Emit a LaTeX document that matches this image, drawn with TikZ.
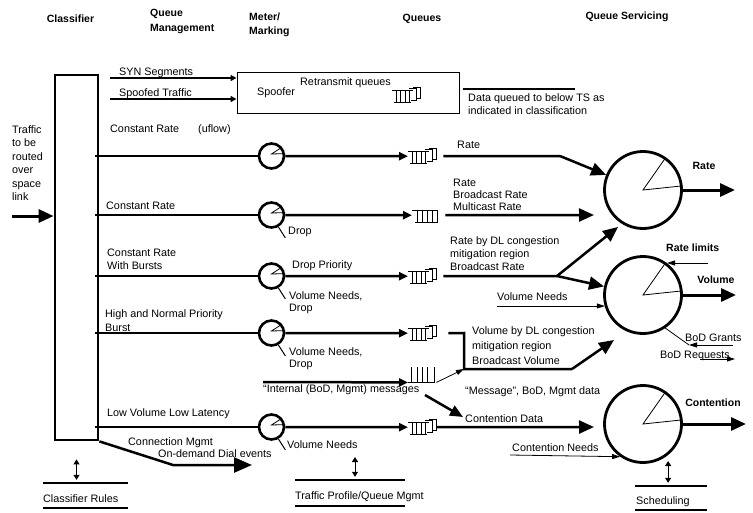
\documentclass[tikz,border=0pt]{standalone}
\usepackage{fontspec}
\setmainfont{Liberation Sans}
\usetikzlibrary{arrows.meta,calc}
\newcommand\qplate[1]{\begin{scope}[shift={(#1.north west)}, line width=0.8pt]
 \draw (0,3) -- (21,3);
 \draw (2,15) -- (19,15);
 \foreach \xx in {4,8.5,13,17.5} \draw (\xx,3) -- (\xx,16);
 \draw (17,1) -- (24,1) -- (24,13) -- (19,13);
 \draw (21,1) -- (21,0) -- (28,0) -- (28,11) -- (24,11);
\end{scope}}
\newcommand\qsimple[1]{\begin{scope}[shift={(#1.north west)}, line width=0.8pt]
 \draw (0,3) -- (26,3);
 \draw (3,15) -- (26,15);
 \foreach \xx in {5,10,15,20,25} \draw (\xx,3) -- (\xx,16);
\end{scope}}
\newcommand\qopen[1]{\begin{scope}[shift={(#1.north west)}, line width=0.8pt]
 \draw (0,15) -- (27,15);
 \foreach \xx in {3,9,14,19,26} \draw (\xx,0) -- (\xx,15);
\end{scope}}
\begin{document}
\begin{tikzpicture}[x=1pt,y=-1pt,
 font=\fontsize{10.8}{12}\selectfont,
 thk/.style={line width=2.5pt},
 thn/.style={line width=0.8pt},
 hd/.style={font=\bfseries\fontsize{10.5}{12}\selectfont, inner sep=0},
 lb/.style={anchor=west, inner sep=0, text height=7.5pt, text depth=2pt},
 ml/.style={anchor=north west, inner sep=0, align=left},
 meter/.style={circle, draw, line width=2.6pt, minimum size=25pt, inner sep=0},
 server/.style={circle, draw, line width=2.8pt, minimum size=77pt, inner sep=0},
 qbox/.style={inner sep=0, minimum width=28pt, minimum height=16pt, anchor=north west},
 big/.style={-{Triangle[length=15pt,width=13pt]}},
 mid/.style={-{Triangle[length=9pt,width=8pt]}},
 sml/.style={-{Triangle[length=6pt,width=6pt]}},
 thinarr/.style={line width=0.8pt,-{Triangle[length=8pt,width=5pt]}},
 dbl/.style={line width=1pt,{Triangle[length=5pt,width=6pt]}-{Triangle[length=5pt,width=6pt]}},
 store/.style={anchor=west, inner sep=0, minimum height=25pt, text height=13.5pt, text depth=0pt},
 tick/.style={line width=1pt}]
\useasboundingbox (0,0) rectangle (753,512);

% headers
\node[hd] (hcls) at (70.5,19) {Classifier};
\node[ml, font=\bfseries\fontsize{10.5}{15}\selectfont] (hqm) at (150,9) {Queue\\Management};
\node[ml, font=\bfseries\fontsize{10.5}{13.5}\selectfont] (hmm) at (249,13) {Meter/\\Marking};
\node[hd] (hq) at (422,19) {Queues};
\node[hd] (hqs) at (627,17) {Queue Servicing};

% classifier
\node[draw, line width=2.8pt, minimum width=43pt, minimum height=365pt, inner sep=0] (cls) at (76.5,257.5) {};
\node[ml, font=\fontsize{10.8}{13.5}\selectfont] (trf) at (12,125) {Traffic\\to be\\routed\\over\\space\\link};
\coordinate (in) at (12,216);
\draw[line width=3pt, big] (in) -- (in -| cls.west);

% spoofer
\node[draw, line width=1pt, minimum width=222pt, minimum height=41pt, inner sep=0] (spf) at (348,92.5) {};
\coordinate (syn) at (110,78);
\coordinate (spt) at (110,99);
\draw[thk, sml] (syn) -- (syn -| spf.west);
\draw[thk, sml] (spt) -- (spt -| spf.west);
\node[lb] (lsyn) at (119,73) {SYN Segments};
\node[lb] (lspt) at (119,94) {Spoofed Traffic};
\node[lb] (lspf) at (257,93) {Spoofer};
\node[lb] (lrtx) at (300,83) {Retransmit queues};
\node[qbox] (q0) at (392,87) {};
\qplate{q0}
\coordinate (dq) at (575,89);
\draw[thk] (spf.east |- dq) ++(3,0) -- (dq);
\node[ml, font=\fontsize{10.8}{13}\selectfont] (ldq) at (468,93) {Data queued to below TS as\\indicated in classification};

% servers
\node[server] (S1) at (643,190) {};
\node[server] (S2) at (643,295) {};
\node[server] (S3) at (643,424) {};
\foreach \s in {S1,S2,S3} {\draw[thn] (\s.55) -- (\s.center) -- (\s.6);}
\coordinate (o1) at (735,190);
\coordinate (o2) at (736,295);
\coordinate (o3) at (746,424);
\draw[line width=3pt, big] (S1.east) -- (o1);
\draw[line width=3pt, big] (S2.east) -- (o2);
\draw[line width=3pt, big] (S3.east) -- (o3);
\node[hd] at (704,166) {Rate};
\node[hd] at (716,280) {Volume};
\node[hd] at (713,403) {Contention};
\node[hd, anchor=west] at (666,248) {Rate limits};

% row 1
\coordinate (c1) at (95,156);
\node[meter] (m1) at (271.5,156) {};
\node[qbox] (q1) at (408,148) {};
\qplate{q1}
\draw[thk] (c1) -- (m1);
\draw[thk, mid] (m1) -- (q1.west);
\node[lb] at (110,130) {Constant Rate};
\node[lb] at (198,130) {(uflow)};
\coordinate (k1) at (560,156);
\draw[thk] ([xshift=7pt]q1.east) -- (k1);
\draw[thk, big] (k1) -- (S1);
\node[lb] at (457,146) {Rate};

% row 2
\coordinate (c2) at (95,215);
\node[meter] (m2) at (271.5,215) {};
\node[qbox] (q2) at (412,207) {};
\qsimple{q2}
\draw[thk] (c2) -- (m2);
\draw[thk, mid] (m2) -- (q2.west);
\node[lb] at (106,207) {Constant Rate};
\draw[tick] (m2.-60) -- ++(7,11);
\node[lb] at (288,232) {Drop};
\coordinate (t2) at (594,215);
\draw[thk, big] ([xshift=5pt]q2.east) -- (t2);
\node[ml, font=\fontsize{10.8}{12}\selectfont] at (453,179) {Rate\\Broadcast Rate\\Multicast Rate};

% row 3
\coordinate (c3) at (95,276);
\node[meter] (m3) at (271.5,276) {};
\node[qbox] (q3) at (408,268) {};
\qplate{q3}
\draw[thk] (c3) -- (m3);
\draw[thk, mid] (m3) -- (q3.west);
\node[ml, font=\fontsize{10.8}{12.5}\selectfont] at (107,249) {Constant Rate\\With Bursts};
\node[lb] at (292,266) {Drop Priority};
\draw[tick] (m3.-60) -- ++(7,11);
\node[ml, font=\fontsize{10.8}{12}\selectfont] at (289,291) {Volume Needs,\\Drop};
\coordinate (f3) at (557,276);
\draw[thk] ([xshift=7pt]q3.east) -- (f3);
\draw[thk, big, shorten >=5pt] (f3) -- (S1.238);
\draw[thk, big] (f3) -- (S2);
\node[ml, font=\fontsize{10.8}{13}\selectfont] at (450,236) {Rate by DL congestion\\mitigation region\\Broadcast Rate};

% Volume needs, rate limits, BoD
\coordinate (vn) at (497,306);
\draw[thinarr] (vn) -- (vn -| S2.197);
\node[lb] at (497,298) {Volume Needs};
\coordinate (rl) at (708,263);
\draw[thinarr] (rl) -- (rl -| S2.53);
\coordinate (bg) at (733,345);
\coordinate (bgc) at (689,345);
\draw[thn] (S2.-56) -- (bgc);
\draw[thinarr] (bg) -- (bgc);
\node[lb] at (685,339) {BoD Grants};
\node[lb] at (660,356) {BoD Requests};
\coordinate (br1) at (700,359);
\coordinate (br2) at (735,359);
\draw[thinarr] (br1) -- (br2);

% row 4
\coordinate (c4) at (95,333);
\node[meter] (m4) at (271.5,333) {};
\node[qbox] (q4) at (408,325) {};
\qplate{q4}
\draw[thk] (c4) -- (m4);
\draw[thk, mid] (m4) -- (q4.west);
\node[ml, font=\fontsize{10.8}{14}\selectfont] at (105,309) {High and Normal Priority\\Burst};
\draw[tick] (m4.-60) -- ++(7,11);
\node[ml, font=\fontsize{10.8}{12}\selectfont] at (289,347) {Volume Needs,\\Drop};
\coordinate (k4a) at (464,333);
\coordinate (k4b) at (464,369);
\coordinate (k4c) at (572,369);
\coordinate (t4) at (614,340);
\draw[thk] ([xshift=12pt]q4.east) -- (k4a) -- (k4b) -- (k4c);
\draw[thk, big] (k4c) -- (t4);
\node[ml, font=\fontsize{10.8}{15}\selectfont] at (472,326) {Volume by DL congestion\\mitigation region\\Broadcast Volume};

% row 5: internal messages
\coordinate (c5) at (263,382);
\node[qbox, minimum height=15pt] (q5) at (408,367) {};
\qopen{q5}
\draw[thk, mid] (c5) -- (q5.south west);
\node[lb] at (263,390) {“Internal (BoD, Mgmt) messages};
\draw[thinarr] (q5.south east) -- (k4b);
\coordinate (mA) at (425,395);
\coordinate (mB) at (463,417);
\draw[thk, -{Triangle[length=13pt,width=11pt]}] (mA) -- (mB);
\node[lb] at (465,392) {“Message”, BoD, Mgmt data};

% row 6
\coordinate (c6) at (95,427);
\node[meter] (m6) at (271.5,427) {};
\node[qbox] (q6) at (408,419) {};
\qplate{q6}
\draw[thk] (c6) -- (m6);
\draw[thk, mid] (m6) -- (q6.west);
\node[lb] at (107,414) {Low Volume Low Latency};
\draw[tick] (m6.-60) -- ++(7,11);
\node[lb] at (287,446) {Volume Needs};
\coordinate (t6) at (594,427);
\draw[thk, big] (q6.east) -- (t6);
\node[lb] at (465,420) {Contention Data};
\coordinate (cn) at (510,455);
\draw[thinarr] (cn) -- (S3.235);
\node[lb] at (512,449) {Contention Needs};

% meter wedges
\foreach \m in {m1,m2,m3,m4,m6} {\draw[thn] (\m.40) -- ([yshift=2pt]\m.center) -- (\m.10);}

% connection mgmt
\coordinate (cm1) at (173,465);
\coordinate (cm2) at (252,465);
\draw[thk, -{Triangle[length=18pt,width=15pt]}] (cls.south east) -- (cm1) -- (cm2);
\node[lb] at (128,443) {Connection Mgmt};
\node[lb] at (158,455) {On-demand Dial events};

% stores
\node[store] (crl) at (43,495.5) {Classifier Rules};
\node[store, minimum height=26pt] (tp) at (295,493) {Traffic Profile/Queue Mgmt};
\node[store, minimum height=24pt] (sch) at (636,498) {Scheduling};
\draw[thk] (crl.north west) -- ++(85,0);
\draw[thk] (crl.south west) -- ++(85,0);
\draw[thk] (tp.north west) -- ++(110,0);
\draw[thk] (tp.south west) -- ++(110,0);
\draw[thk] (sch.north west) ++(-1,0) -- ++(72,0);
\draw[thk] (sch.south west) ++(-1,0) -- ++(72,0);
\draw[dbl, shorten <=18pt, shorten >=3pt] (cls.south) -- (cls.south |- crl.north);
\coordinate (tpa) at (355,457);
\draw[dbl, shorten >=3pt] (tpa) -- (tpa |- tp.north);
\draw[dbl, shorten <=6pt, shorten >=3pt] (S3.-51) -- (S3.-51 |- sch.north);
\end{tikzpicture}
\end{document}
